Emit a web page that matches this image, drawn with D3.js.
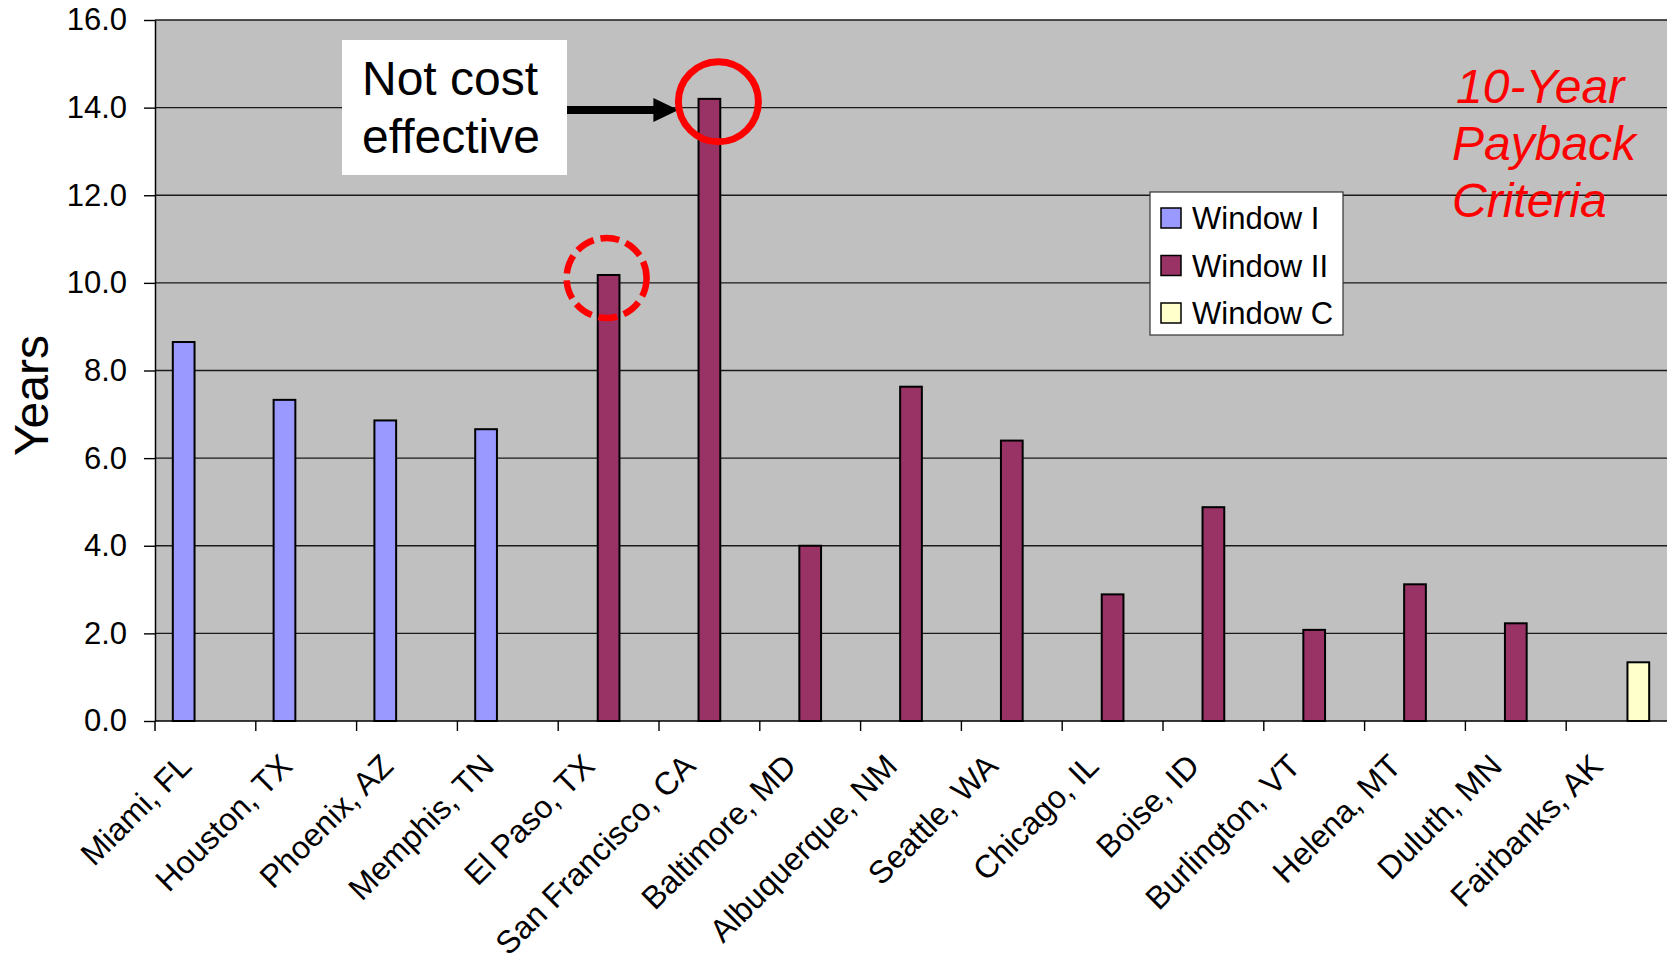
<!DOCTYPE html>
<html>
<head>
<meta charset="utf-8">
<script src="https://cdn.jsdelivr.net/npm/d3@7"></script>
<style>
  body { margin: 0; background: #fff; }
  svg { display: block; font-family: "Liberation Sans", Arial, sans-serif; }
</style>
</head>
<body>
<svg id="chart" width="1668" height="965"></svg>
<script>
// data
const cities = ["Miami, FL", "Houston, TX", "Phoenix, AZ", "Memphis, TN", "El Paso, TX",
  "San Francisco, CA", "Baltimore, MD", "Albuquerque, NM", "Seattle, WA", "Chicago, IL",
  "Boise, ID", "Burlington, VT", "Helena, MT", "Duluth, MN", "Fairbanks, AK"]
const seriesNames = ["Window I", "Window II", "Window C"]
const windowI  = [8.65, 7.33, 6.86, 6.66, null, null, null, null, null, null, null, null, null, null, null]
const windowII = [null, null, null, null, 10.18, 14.2, 4.0, 7.63, 6.40, 2.89, 4.88, 2.08, 3.12, 2.23, null]
const windowC  = [null, null, null, null, null, null, null, null, null, null, null, null, null, null, 1.34]
const yTicks = [0, 2, 4, 6, 8, 10, 12, 14, 16]
const colors = ["#9999FF", "#993366", "#FFFFCC"]

const svg = d3.select("#chart")

// scales
const x = d3.scaleBand().domain(cities).range([155, 1667]).padding(0)
const xs = d3.scaleBand().domain(seriesNames).range([0, x.bandwidth()]).paddingInner(0).paddingOuter(0.82)
const y = d3.scaleLinear().domain([0, 16]).range([721, 20])
const color = d3.scaleOrdinal(seriesNames, colors)

// plot background
svg.append("rect")
  .attr("x", x.range()[0]).attr("y", y(16))
  .attr("width", x.range()[1] - x.range()[0]).attr("height", y(0) - y(16))
  .attr("fill", "#C0C0C0")

// gridlines
svg.append("g").selectAll("line")
  .data(yTicks.filter(d => d > 0))
  .enter().append("line")
    .attr("x1", x.range()[0]).attr("x2", x.range()[1])
    .attr("y1", d => y(d)).attr("y2", d => y(d))
    .attr("stroke", "#1a1a1a").attr("stroke-width", 1.4)

// bars
const rows = []
const series = [windowI, windowII, windowC]
series.forEach((vals, si) => {
  vals.forEach((v, ci) => {
    if (v != null) rows.push({ city: cities[ci], name: seriesNames[si], value: v })
  })
})

svg.append("g").selectAll("rect")
  .data(rows)
  .enter().append("rect")
    .attr("x", d => x(d.city) + xs(d.name))
    .attr("y", d => y(d.value))
    .attr("width", xs.bandwidth())
    .attr("height", d => y(0) - y(d.value))
    .attr("fill", d => color(d.name))
    .attr("stroke", "#000").attr("stroke-width", 2)

// y axis
const yAxis = svg.append("g")
  .attr("transform", `translate(${x.range()[0]},0)`)
  .call(d3.axisLeft(y).tickValues(yTicks).tickFormat(d3.format(".1f")).tickSize(11).tickPadding(17).tickSizeOuter(0))
yAxis.select(".domain").attr("stroke", "#000").attr("stroke-width", 1.5)
yAxis.selectAll(".tick line").attr("stroke", "#000").attr("stroke-width", 1.4)
yAxis.selectAll(".tick text")
  .attr("font-size", 31).attr("font-family", "Liberation Sans, Arial, sans-serif").attr("fill", "#000")

// x axis line + ticks at band edges
const xg = svg.append("g")
xg.append("line")
  .attr("x1", x.range()[0]).attr("x2", x.range()[1])
  .attr("y1", y(0)).attr("y2", y(0))
  .attr("stroke", "#000").attr("stroke-width", 1.5)
xg.append("line")
  .attr("x1", x.range()[0]).attr("x2", x.range()[0])
  .attr("y1", y(0)).attr("y2", y(0) + 10)
  .attr("stroke", "#000").attr("stroke-width", 1.5)
xg.selectAll(".xtick")
  .data(cities.slice(1))
  .enter().append("line")
    .attr("x1", d => x(d)).attr("x2", d => x(d))
    .attr("y1", y(0)).attr("y2", y(0) + 10)
    .attr("stroke", "#000").attr("stroke-width", 1.4)

xg.selectAll("text")
  .data(cities)
  .enter().append("text")
    .attr("transform", d => `translate(${x(d) + x.bandwidth() / 2 - 12},${y(0) + 47}) rotate(-45)`)
    .attr("text-anchor", "end")
    .attr("font-size", 32)
    .text(d => d)

// y title
svg.append("text")
  .attr("transform", `translate(48,${(y(0) + y(16)) / 2 + 25}) rotate(-90)`)
  .attr("text-anchor", "middle")
  .attr("font-size", 48)
  .text("Years")

// legend
const legend = svg.append("g").attr("transform", "translate(1150,192)")
legend.append("rect")
  .attr("width", 193).attr("height", 143)
  .attr("fill", "#fff").attr("stroke", "#333").attr("stroke-width", 1.2)
const li = legend.selectAll(".item")
  .data(seriesNames)
  .enter().append("g")
    .attr("transform", (d, i) => `translate(11,${26 + i * 47.5})`)
li.append("rect")
  .attr("y", -10).attr("width", 20).attr("height", 20)
  .attr("fill", d => color(d)).attr("stroke", "#000").attr("stroke-width", 1.5)
li.append("text")
  .attr("x", 31).attr("dy", "0.36em")
  .attr("font-size", 31)
  .text(d => d)

// annotation: "Not cost effective"
const note = svg.append("g")
note.append("rect")
  .attr("x", 342).attr("y", 40).attr("width", 225).attr("height", 135)
  .attr("fill", "#fff")
note.append("text")
  .attr("x", 362).attr("y", 95)
  .attr("font-size", 48)
  .text("Not cost")
note.append("text")
  .attr("x", 362).attr("y", 153)
  .attr("font-size", 48)
  .text("effective")

// circles round the two tallest bars
const sfX = x("San Francisco, CA") + xs("Window II") + xs.bandwidth() / 2
const epX = x("El Paso, TX") + xs("Window II") + xs.bandwidth() / 2
svg.append("circle")
  .attr("cx", sfX + 9).attr("cy", y(14.2) + 3).attr("r", 40)
  .attr("fill", "none").attr("stroke", "#FF0000").attr("stroke-width", 7)
svg.append("circle")
  .attr("cx", epX - 2).attr("cy", y(10.18) + 3).attr("r", 40)
  .attr("fill", "none").attr("stroke", "#FF0000").attr("stroke-width", 6.5)
  .attr("stroke-dasharray", "19,7")

// arrow
const tipX = sfX + 9 - 40
note.append("line")
  .attr("x1", 567).attr("x2", tipX - 22)
  .attr("y1", 110).attr("y2", 110)
  .attr("stroke", "#000").attr("stroke-width", 8)
note.append("path")
  .attr("d", `M${tipX},110 L${tipX - 25},98 L${tipX - 25},122 Z`)
  .attr("fill", "#000")

// red criteria text
const crit = svg.append("text")
  .attr("fill", "#FF0000").attr("font-style", "italic").attr("font-size", 48)
;["10-Year", "Payback", "Criteria"].forEach((t, i) => {
  crit.append("tspan").attr("x", i === 0 ? 1456 : 1452).attr("y", 103 + i * 57).text(t)
})
</script>
</body>
</html>
